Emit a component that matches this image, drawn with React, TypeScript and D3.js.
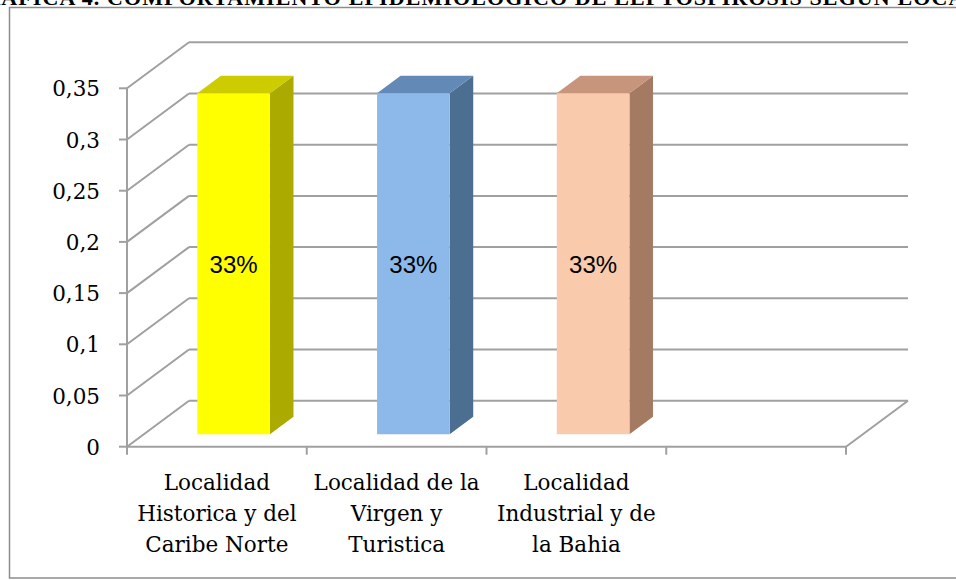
import React from "react";
import * as d3 from "d3";

const categories: string[][] = [
  ["Localidad", "Historica y del", "Caribe Norte"],
  ["Localidad de la", "Virgen y", "Turistica"],
  ["Localidad", "Industrial y de", "la Bahia"],
  [""],
];
const values: (number | null)[] = [0.333, 0.333, 0.333, null];
const valueLabels: string[] = ["33%", "33%", "33%", ""];
const yTicks: number[] = [0, 0.05, 0.1, 0.15, 0.2, 0.25, 0.3, 0.35];
const yTickLabels: string[] = ["0", "0,05", "0,1", "0,15", "0,2", "0,25", "0,3", "0,35"];
const faceColors = ["#FFFF00", "#8DB9EA", "#F9CAAC"];
const topColors = ["#CCCC00", "#6389B6", "#C6957B"];
const sideColors = ["#AAAA00", "#4C6E91", "#A57A62"];
const titleText = "GRÁFICA 4. COMPORTAMIENTO EPIDEMIOLÓGICO DE LEPTOSPIROSIS SEGÚN LOCALIDAD";

const W = 956;
const H = 580;
const X0 = 127;
const X1 = 846;
const DX = 62;
const DY = -46;
const D_FRONT = 0.27;
const D_BACK = 0.65;
const GRID = "#A0A0A0";

export default function App() {
  const y = d3.scaleLinear().domain([0, 0.35]).range([446.7, 88.3]);
  const x = d3
    .scaleBand<number>()
    .domain(categories.map((_, i) => i))
    .range([X0, X1])
    .paddingInner(0)
    .paddingOuter(0);
  const bw = x.bandwidth();
  const barW = bw * 0.404;

  const pt = (px: number, py: number, d: number) => [px + DX * d, py + DY * d] as [number, number];
  const poly = (pts: [number, number][]) => pts.map((p) => p.join(",")).join(" ");

  const y0 = y(0);

  return (
    <svg
      width={W}
      height={H}
      style={{ position: "absolute", left: 0, top: 0, background: "#fff" }}
      viewBox={`0 0 ${W} ${H}`}
    >
      <rect x={0} y={0} width={W} height={H} fill="#fff" />
      {/* title, cut off at top */}
      <text
        x={-34}
        y={5}
        fontFamily="'Liberation Serif', serif"
        fontWeight="bold"
        fontSize={22}
        fill="#000"
        letterSpacing={1.1}
      >
        {titleText}
      </text>
      {/* frame */}
      <rect x={9.5} y={7.5} width={960} height={570.5} fill="none" stroke="#8C8C8C" strokeWidth={1.5} />

      {/* gridlines: left wall and back wall */}
      {yTicks.map((t, i) => {
        const yy = y(t);
        const a = pt(X0, yy, 0);
        const b = pt(X0, yy, 1);
        const c = pt(X1, yy, 1);
        return (
          <g key={"g" + i}>
            <line x1={a[0]} y1={a[1]} x2={b[0]} y2={b[1]} stroke={GRID} strokeWidth={2} />
            <line x1={b[0]} y1={b[1]} x2={c[0]} y2={c[1]} stroke={GRID} strokeWidth={2} />
          </g>
        );
      })}
      {/* floor right edge */}
      {(() => {
        const a = pt(X1, y0, 0);
        const b = pt(X1, y0, 1);
        return <line x1={a[0]} y1={a[1]} x2={b[0]} y2={b[1]} stroke={GRID} strokeWidth={2} />;
      })()}

      {/* bars */}
      {values.map((v, i) => {
        if (v == null) return null;
        const cx = (x(i) as number) + bw / 2;
        const l = cx - barW / 2;
        const r = cx + barW / 2;
        const yt = y(v);
        const fTL = pt(l, yt, D_FRONT);
        const fTR = pt(r, yt, D_FRONT);
        const fBR = pt(r, y0, D_FRONT);
        const fBL = pt(l, y0, D_FRONT);
        const bTL = pt(l, yt, D_BACK);
        const bTR = pt(r, yt, D_BACK);
        const bBR = pt(r, y0, D_BACK);
        const midY = (fTL[1] + fBL[1]) / 2;
        const midX = (fTL[0] + fTR[0]) / 2;
        return (
          <g key={"b" + i}>
            <polygon points={poly([fTR, bTR, bBR, fBR])} fill={sideColors[i]} />
            <polygon points={poly([fTL, fTR, bTR, bTL])} fill={topColors[i]} />
            <polygon points={poly([fTL, fTR, fBR, fBL])} fill={faceColors[i]} />
            <text
              x={midX}
              y={midY + 9}
              textAnchor="middle"
              fontFamily="'Liberation Sans', Arial, sans-serif"
              fontSize={24}
              fill="#000"
            >
              {valueLabels[i]}
            </text>
          </g>
        );
      })}

      {/* front axes */}
      <line x1={X0} y1={y(0.35)} x2={X0} y2={y0} stroke={GRID} strokeWidth={2} />
      <line x1={X0} y1={y0} x2={X1} y2={y0} stroke={GRID} strokeWidth={2} />
      {yTicks.map((t, i) => (
        <g key={"yt" + i}>
          <line x1={X0 - 8} y1={y(t)} x2={X0} y2={y(t)} stroke={GRID} strokeWidth={2} />
          <text
            x={100}
            y={y(t) + 8}
            textAnchor="end"
            fontFamily="'DejaVu Serif', serif"
            fontSize={21.5}
            fill="#000"
          >
            {yTickLabels[i]}
          </text>
        </g>
      ))}
      {d3.range(categories.length + 1).map((i) => {
        const xx = X0 + i * bw;
        return <line key={"xt" + i} x1={xx} y1={y0} x2={xx} y2={y0 + 8} stroke={GRID} strokeWidth={2} />;
      })}
      {categories.map((lines, i) => (
        <text
          key={"c" + i}
          textAnchor="middle"
          fontFamily="'DejaVu Serif', serif"
          fontSize={21.5}
          fill="#000"
        >
          {lines.map((ln, j) => (
            <tspan key={j} x={(x(i) as number) + bw / 2} y={490 + j * 31}>
              {ln}
            </tspan>
          ))}
        </text>
      ))}
    </svg>
  );
}
